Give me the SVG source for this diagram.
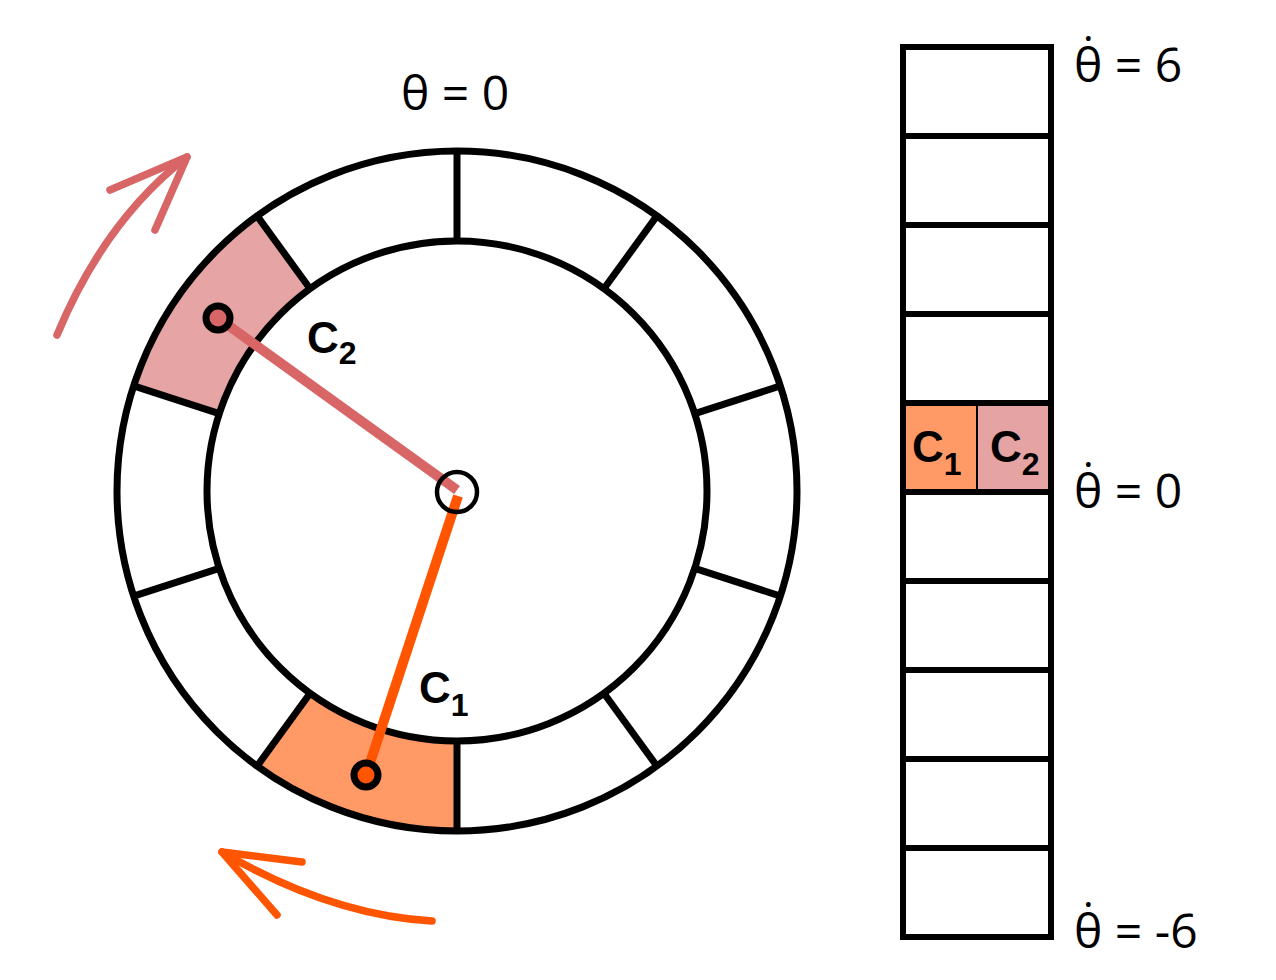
<svg xmlns="http://www.w3.org/2000/svg" width="1276" height="980" viewBox="0 0 1276 980">
<style>
.ring{fill:none;stroke:#000;stroke-width:7}
.div{stroke:#000;stroke-width:7;stroke-linecap:butt}
.hl{stroke:#000;stroke-width:6}
.cell{fill:none;stroke:#000;stroke-width:6}
.lbl{font-family:"Open Sans","Liberation Sans",Arial,sans-serif;font-size:48px;fill:#000}
.cl{font-family:"Liberation Sans",Arial,sans-serif;font-size:44px;font-weight:bold;fill:#000}
.sub{font-size:32px}
.pink{stroke:#D96666}
.orange{stroke:#FF5500}
.arrow{fill:none;stroke-width:7.5;stroke-linecap:round;stroke-linejoin:round}
.dot{stroke:#000;stroke-width:7}
</style>
<rect width="1276" height="980" fill="#fff"/>

<g id="wheel">
  <path id="seg-c1" d="M457,831 L457,741 A250,250 0 0 1 310.1,693.3 L257.1,766.1 A340,340 0 0 0 457,831 Z" fill="#FF9966" stroke="#8a3a1a" stroke-width="2"/>
  <path id="seg-c2" d="M219.2,413.7 A250,250 0 0 1 310.1,288.8 L257.1,215.9 A340,340 0 0 0 133.6,385.9 Z" fill="#E6A4A4" stroke="#7a2a2a" stroke-width="2"/>
  <circle class="ring" cx="457" cy="491" r="340"/>
  <circle class="ring" cx="457" cy="491" r="250"/>
  <g id="dividers">
    <line class="div" x1="457" y1="241" x2="457" y2="151"/>
    <line class="div" x1="603.9" y1="288.8" x2="656.9" y2="215.9"/>
    <line class="div" x1="694.8" y1="413.7" x2="780.4" y2="385.9"/>
    <line class="div" x1="694.8" y1="568.3" x2="780.4" y2="596.1"/>
    <line class="div" x1="603.9" y1="693.3" x2="656.9" y2="766.1"/>
    <line class="div" x1="457" y1="741" x2="457" y2="831"/>
    <line class="div" x1="310.1" y1="693.3" x2="257.1" y2="766.1"/>
    <line class="div" x1="219.2" y1="568.3" x2="133.6" y2="596.1"/>
    <line class="div" x1="219.2" y1="413.7" x2="133.6" y2="385.9"/>
    <line class="div" x1="310.1" y1="288.8" x2="257.1" y2="215.9"/>
  </g>
</g>

<g id="connectors">
  <line class="pink" x1="218" y1="318" x2="457" y2="490" stroke-width="10"/>
  <line class="orange" x1="366" y1="775" x2="458" y2="496" stroke-width="10"/>
  <path class="arrow pink" d="M57,335 Q105,220 187,157"/>
  <path class="arrow pink" d="M110,190 L187,157 L155,230"/>
  <path class="arrow orange" d="M432,921 Q330,915 222,852"/>
  <path class="arrow orange" d="M302,862 L222,852 L277,915"/>
</g>

<g id="hub">
  <circle cx="457" cy="492" r="20" fill="none" stroke="#000" stroke-width="4.5"/>
</g>
<g id="c2-point">
  <circle class="dot" cx="218" cy="318" r="12" fill="#D96666"/>
</g>
<g id="c1-point">
  <circle class="dot" cx="366" cy="775" r="12" fill="#FF5500"/>
</g>

<g id="labels">
  <text class="lbl" x="401" y="110">θ = 0</text>
  <text class="cl" x="307" y="353">C<tspan class="sub" dy="11">2</tspan></text>
  <text class="cl" x="419" y="703">C<tspan class="sub" dy="13">1</tspan></text>
</g>

<g id="column">
  <rect x="903" y="403" width="74" height="89" fill="#FF9966"/>
  <rect x="977" y="403" width="74" height="89" fill="#E6A3A3"/>
  <line x1="977" y1="403" x2="977" y2="492" stroke="#000" stroke-width="2"/>
  <rect class="cell" x="903" y="47" width="148" height="890"/>
  <g class="hl">
    <line x1="903" y1="136" x2="1051" y2="136"/>
    <line x1="903" y1="225" x2="1051" y2="225"/>
    <line x1="903" y1="314" x2="1051" y2="314"/>
    <line x1="903" y1="403" x2="1051" y2="403"/>
    <line x1="903" y1="492" x2="1051" y2="492"/>
    <line x1="903" y1="581" x2="1051" y2="581"/>
    <line x1="903" y1="670" x2="1051" y2="670"/>
    <line x1="903" y1="759" x2="1051" y2="759"/>
    <line x1="903" y1="848" x2="1051" y2="848"/>
  </g>
  <text class="cl" x="912" y="462">C<tspan class="sub" dy="13">1</tspan></text>
  <text class="cl" x="990" y="462">C<tspan class="sub" dy="13">2</tspan></text>
</g>

<g id="axis-labels">
  <text class="lbl" x="1074" y="82">θ̇ = 6</text>
  <text class="lbl" x="1074" y="508">θ̇ = 0</text>
  <text class="lbl" x="1074" y="948">θ̇ = -6</text>
</g>
</svg>
